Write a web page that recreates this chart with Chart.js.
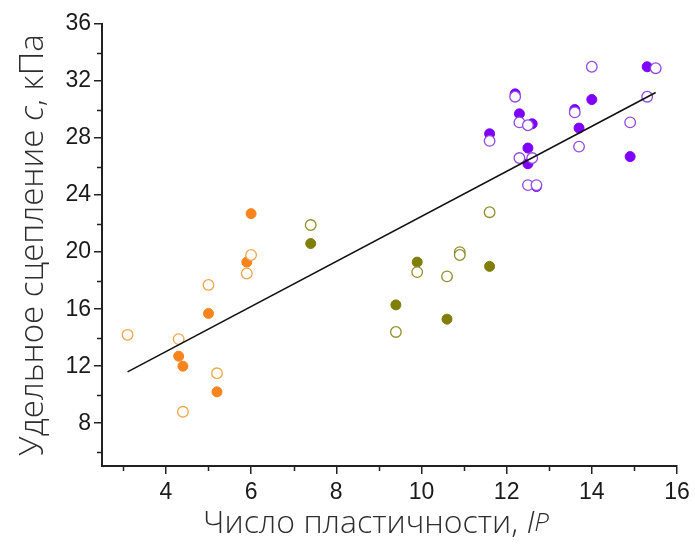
<!DOCTYPE html>
<html>
<head>
<meta charset="utf-8">
<script src="https://cdn.jsdelivr.net/npm/chart.js@4.4.1/dist/chart.umd.min.js"></script>
<style>
  html, body { margin: 0; padding: 0; background: #fff; }
  #wrap { width: 695px; height: 548px; position: relative; }
</style>
</head>
<body>
<div id="wrap"><canvas id="chart"></canvas></div>
<script>
// --- данные: число пластичности Ip / удельное сцепление c (кПа) ---
// супеси (оранжевые)
const sandyFilledX = [4.3, 4.4, 5.0, 5.2, 5.9, 6.0];
const sandyFilledY = [12.7, 12.0, 15.7, 10.2, 19.3, 22.7];
const sandyOpenX = [3.1, 4.3, 4.4, 5.0, 5.2, 5.9, 6.0];
const sandyOpenY = [14.2, 13.9, 8.8, 17.7, 11.5, 18.5, 19.8];

// суглинки (оливковые)
const loamFilledX = [7.4, 9.4, 9.9, 10.6, 11.6];
const loamFilledY = [20.6, 16.3, 19.3, 15.3, 19.0];
const loamOpenX = [7.4, 9.4, 9.9, 10.6, 10.9, 10.9, 11.6];
const loamOpenY = [21.9, 14.4, 18.6, 18.3, 20.0, 19.8, 22.8];

// глины (фиолетовые)
const clayFilledX = [11.6, 12.2, 12.3, 12.5, 12.5, 12.6, 12.7, 13.6, 13.7, 14.0, 14.9, 15.3];
const clayFilledY = [28.3, 31.1, 29.7, 27.3, 26.2, 29.0, 24.6, 30.0, 28.7, 30.7, 26.7, 33.0];
const clayOpenX = [11.6, 12.2, 12.3, 12.5, 12.3, 12.6, 12.5, 12.7, 13.6, 13.7, 14.0, 14.9, 15.3, 15.5];
const clayOpenY = [27.8, 30.9, 29.1, 28.9, 26.6, 26.6, 24.7, 24.7, 29.8, 27.4, 33.0, 29.1, 30.9, 32.9];

// линия тренда
const trendX = [3.1, 15.5];
const trendY = [11.6, 31.2];

// оси
const xTickValues = [4, 6, 8, 10, 12, 14, 16];
const xMinorValues = [3, 5, 7, 9, 11, 13, 15];
const yTickValues = [8, 12, 16, 20, 24, 28, 32, 36];
const yMinorValues = [6, 10, 14, 18, 22, 26, 30, 34];

const pts = (xs, ys) => xs.map((x, i) => ({ x: x, y: ys[i] }));

const COLORS = {
  sandy: '#f7841c', sandyOpen: '#f0a54a',
  loam: '#7f7f08', loamOpen: '#8e8e2c',
  clay: '#7f00ff', clayOpen: '#9148e6'
};

function filledSet(label, data, color) {
  return {
    type: 'scatter', label: label, data: data,
    pointRadius: 5, pointHoverRadius: 5,
    pointBackgroundColor: color, pointBorderColor: color, pointBorderWidth: 1
  };
}
function openSet(label, data, color) {
  return {
    type: 'scatter', label: label, data: data,
    pointRadius: 5.3, pointHoverRadius: 5.3,
    pointBackgroundColor: '#ffffff', pointBorderColor: color, pointBorderWidth: 1.3
  };
}

// малые штрихи и подписи осей (курсив для c и Ip)
const axisDecor = {
  id: 'axisDecor',
  afterDraw(chart) {
    const ctx = chart.ctx;
    const xs = chart.scales.x, ys = chart.scales.y;
    const a = chart.chartArea;
    ctx.save();
    ctx.strokeStyle = '#222';
    ctx.lineWidth = 1.5;
    ctx.beginPath();
    xMinorValues.forEach(v => {
      const px = Math.round(xs.getPixelForValue(v)) + 0.5;
      ctx.moveTo(px, a.bottom); ctx.lineTo(px, a.bottom + 5);
    });
    yMinorValues.forEach(v => {
      const py = Math.round(ys.getPixelForValue(v)) + 0.5;
      ctx.moveTo(a.left, py); ctx.lineTo(a.left - 5, py);
    });
    ctx.stroke();

    const fam = '"Open Sans", "Noto Sans", sans-serif';
    const drawParts = (parts, cx, cy) => {
      let total = 0;
      parts.forEach(p => { ctx.font = p.font; total += ctx.measureText(p.text).width; });
      let x = cx - total / 2;
      parts.forEach(p => {
        ctx.font = p.font;
        ctx.fillText(p.text, x, cy);
        x += ctx.measureText(p.text).width;
      });
    };
    ctx.fillStyle = '#2e2e2e';
    ctx.textBaseline = 'middle';
    ctx.textAlign = 'left';

    drawParts([
      { text: 'Число пластичности, ', font: '300 32px ' + fam },
      { text: 'I', font: 'italic 300 32px ' + fam },
      { text: 'P', font: 'italic 300 26px ' + fam }
    ], 376, 524);

    ctx.translate(34, (a.top + a.bottom) / 2);
    ctx.rotate(-Math.PI / 2);
    drawParts([
      { text: 'Удельное сцепление ', font: '300 33px ' + fam },
      { text: 'c', font: 'italic 300 33px ' + fam },
      { text: ', кПа', font: '300 33px ' + fam }
    ], 0, 0);
    ctx.restore();
  }
};

new Chart(document.getElementById('chart'), {
  data: {
    datasets: [
      {
        type: 'line', label: 'тренд', data: pts(trendX, trendY),
        borderColor: '#111', borderWidth: 1.6, pointRadius: 0, fill: false, tension: 0
      },
      openSet('глины', pts(clayOpenX, clayOpenY), COLORS.clayOpen),
      filledSet('глины', pts(clayFilledX, clayFilledY), COLORS.clay),
      openSet('суглинки', pts(loamOpenX, loamOpenY), COLORS.loamOpen),
      filledSet('суглинки', pts(loamFilledX, loamFilledY), COLORS.loam),
      openSet('супеси', pts(sandyOpenX, sandyOpenY), COLORS.sandyOpen),
      filledSet('супеси', pts(sandyFilledX, sandyFilledY), COLORS.sandy)
    ]
  },
  options: {
    responsive: true,
    maintainAspectRatio: false,
    animation: false,
    layout: { padding: { top: 24, right: 18, left: 0, bottom: 0 } },
    plugins: { legend: { display: false }, tooltip: { enabled: false } },
    scales: {
      x: {
        type: 'linear', min: 2.5, max: 16,
        afterBuildTicks: s => { s.ticks = xTickValues.map(v => ({ value: v })); },
        afterFit: s => { s.height = 82; },
        grid: { drawOnChartArea: false, drawTicks: true, tickLength: 8, color: '#222', lineWidth: 1.5 },
        border: { display: true, color: '#222', width: 2 },
        ticks: {
          color: '#1a1a1a', padding: 5,
          font: { family: '"Liberation Sans", Arial, sans-serif', size: 23 }
        }
      },
      y: {
        type: 'linear', min: 5, max: 36,
        afterBuildTicks: s => { s.ticks = yTickValues.map(v => ({ value: v })); },
        afterFit: s => { s.width = 102; },
        grid: { drawOnChartArea: false, drawTicks: true, tickLength: 8, color: '#222', lineWidth: 1.5 },
        border: { display: true, color: '#222', width: 2 },
        ticks: {
          color: '#1a1a1a', padding: 3,
          font: { family: '"Liberation Sans", Arial, sans-serif', size: 23 }
        }
      }
    }
  },
  plugins: [axisDecor]
});
</script>
</body>
</html>
